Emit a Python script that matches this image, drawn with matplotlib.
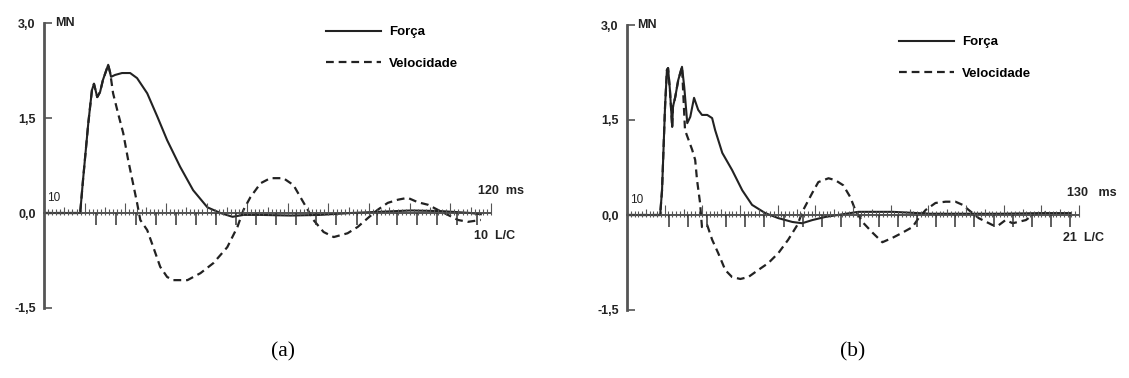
import numpy as np
import matplotlib
matplotlib.use("Agg")
import matplotlib.pyplot as plt

plt.rcParams['font.family'] = ['Liberation Sans', 'DejaVu Sans']

# panel (a) - time in ms, force / velocity in MN
t_force_a = [10, 18.9, 19.6, 20.9, 21.8, 22.3, 23.1, 23.8, 24.5, 25.8, 26.5, 27.5, 29.2, 31.2,
             32.9, 35.4, 37.9, 40.3, 43.5, 46.7, 50.2, 53.4, 56.4, 59.1, 63.3, 70.7, 78.0,
             85.5, 92.9, 100.3, 107.7, 115.0, 117.5]
force_a = [0, 0, 0.52, 1.42, 1.94, 2.04, 1.83, 1.91, 2.10, 2.34, 2.15, 2.18, 2.21, 2.21,
           2.13, 1.89, 1.52, 1.15, 0.73, 0.36, 0.09, 0.0, -0.06, -0.03, -0.03, -0.04, -0.03,
           0.0, 0.02, 0.04, 0.03, 0.0, -0.02]
t_vel_a = [10, 18.9, 19.6, 20.9, 21.8, 22.3, 23.1, 23.8, 24.5, 25.8, 26.3, 27.0, 28.2, 29.5,
           30.7, 31.9, 32.9, 33.7, 35.4, 36.9, 38.6, 40.3, 41.8, 45.3, 48.5, 51.7, 55.1, 57.6,
           59.1, 60.8, 63.3, 65.7, 68.9, 71.4, 73.1, 74.9, 76.3, 78.8, 81.3, 84.7, 87.2, 89.7,
           92.1, 94.6, 97.1, 99.5, 102.0, 104.5, 106.9, 109.4, 111.9, 114.3, 117.5]
vel_a = [0, 0, 0.52, 1.42, 1.94, 2.04, 1.83, 1.91, 2.10, 2.34, 2.21, 1.89, 1.58, 1.26,
         0.84, 0.47, 0.16, -0.11, -0.27, -0.54, -0.85, -1.01, -1.06, -1.06, -0.95, -0.79,
         -0.54, -0.22, 0.05, 0.25, 0.47, 0.55, 0.55, 0.44, 0.25, 0.05, -0.11, -0.30, -0.38,
         -0.32, -0.22, -0.08, 0.05, 0.16, 0.21, 0.24, 0.17, 0.13, 0.05, -0.03, -0.11, -0.14,
         -0.11]

# panel (b)
t_force_b = [10, 18.8, 19.3, 20.1, 20.6, 20.9, 21.4, 22.0, 22.2, 22.8, 23.6, 24.6, 25.2, 26.0,
             26.8, 27.8, 28.9, 29.9, 31.3, 32.6, 33.4, 35.3, 37.9, 40.6, 43.2, 46.7, 50.2,
             53.9, 56.5, 59.2, 62.7, 71.4, 80.5, 90.6, 101.2, 109.2, 119.8, 127.8]
force_b = [0, 0, 0.39, 1.71, 2.29, 2.32, 1.97, 1.39, 1.71, 1.86, 2.13, 2.34, 2.02, 1.45,
           1.55, 1.85, 1.66, 1.58, 1.58, 1.53, 1.34, 0.98, 0.71, 0.39, 0.16, 0.03, -0.05,
           -0.11, -0.13, -0.08, -0.03, 0.05, 0.05, 0.02, 0.02, 0.02, 0.03, 0.03]
t_vel_b = [10, 18.8, 19.3, 20.1, 20.6, 20.9, 21.4, 22.0, 22.2, 22.8, 23.6, 24.6, 25.4, 27.3,
           28.1, 28.6, 29.4, 29.9, 31.3, 32.6, 34.2, 36.1, 37.9, 40.1, 42.2, 44.8, 47.5, 50.2,
           52.8, 55.2, 56.8, 59.2, 60.8, 63.5, 65.3, 67.4, 69.3, 70.6, 72.5, 75.2, 77.8, 80.5,
           83.1, 85.8, 87.4, 89.3, 91.9, 94.6, 97.2, 99.1, 100.7, 103.4, 107.1, 108.7, 110.5,
           112.4, 115.9, 117.7, 121.2]
vel_b = [0, 0, 0.39, 1.71, 2.29, 2.32, 1.97, 1.39, 1.71, 1.86, 2.13, 2.34, 1.34, 1.03,
         0.87, 0.55, 0.19, -0.19, -0.16, -0.39, -0.60, -0.87, -0.98, -1.01, -0.98, -0.87,
         -0.76, -0.60, -0.39, -0.16, 0.08, 0.35, 0.52, 0.58, 0.55, 0.47, 0.28, 0.08, -0.11,
         -0.28, -0.43, -0.36, -0.28, -0.19, -0.05, 0.08, 0.19, 0.21, 0.21, 0.16, 0.08, -0.05,
         -0.16, -0.16, -0.08, -0.13, -0.08, 0.0, 0.05]

y_ticks = [3.0, 1.5, 0.0, -1.5]
y_ticklabels = ['3,0', '1,5', '0,0', '-1,5']
lc_ticks_a = np.linspace(22.8, 116.5, 20)
lc_ticks_b = np.linspace(21.15, 127.6, 22)

INK = '#222222'
bold = dict(fontweight='bold', fontsize=9, color=INK)


def draw_panel(ax, t_f, f, t_v, v, t_end, lc_ticks, end_label, lc_label):
    ax.plot(t_v, v, color=INK, lw=1.6, dashes=(3.5, 2.2), label='Velocidade')
    ax.plot(t_f, f, color=INK, lw=1.5, label='Força')
    ax.set_xlim(10, t_end)
    ax.set_ylim(-1.5, 3.0)
    for s in ['top', 'right', 'bottom']:
        ax.spines[s].set_visible(False)
    ax.spines['left'].set_color('#555555')
    ax.spines['left'].set_linewidth(2)
    ax.set_xticks([])
    ax.set_yticks(y_ticks)
    ax.set_yticklabels(y_ticklabels, **bold)
    ax.tick_params(axis='y', direction='in', length=6, width=1.2, color='#555555', pad=6)

    # time ruler on the zero line
    ax.plot([10, t_end], [0, 0], color='#444444', lw=1.3, clip_on=False)
    ms = np.arange(10, t_end + 1, 1)
    h = np.where(ms % 10 == 0, 0.16, np.where(ms % 5 == 0, 0.09, 0.06))
    ax.vlines(ms, -0.03, h, color='#555555', lw=0.8, clip_on=False)
    ax.vlines(lc_ticks, -0.19, 0, color='#333333', lw=1.1, clip_on=False)

    ax.text(10.8, 0.23, '10', fontsize=8.5, color=INK, va='center')
    ax.text(12.8, 3.0, 'MN', va='center', **bold)
    ax.text(t_end - 3.2, 0.34, end_label, va='center', **bold)
    ax.text(t_end - 4.3, -0.37, lc_label, va='center', **bold)

    handles, labels = ax.get_legend_handles_labels()
    return handles[::-1], labels[::-1]


fig = plt.figure(figsize=(11.29, 3.78), dpi=100)
ax1 = fig.add_axes([44 / 1129, 70 / 378, 447 / 1129, 285 / 378])
ax2 = fig.add_axes([627 / 1129, 68 / 378, 452 / 1129, 285 / 378])

leg_kw = dict(loc='upper left', bbox_transform=fig.transFigure, frameon=False, borderpad=0,
              borderaxespad=0, handlelength=4.2, handletextpad=0.6, labelspacing=1.45,
              prop=dict(weight='bold', size=9.5))

h, l = draw_panel(ax1, t_force_a, force_a, t_vel_a, vel_a, 120, lc_ticks_a,
                  '120  ms', '10  L/C')
ax1.legend(h, l, bbox_to_anchor=(326 / 1129, 1 - 26 / 378), **leg_kw)

h, l = draw_panel(ax2, t_force_b, force_b, t_vel_b, vel_b, 130, lc_ticks_b,
                  '130   ms', '21  L/C')
ax2.legend(h, l, bbox_to_anchor=(899 / 1129, 1 - 36 / 378), **leg_kw)

fig.text(283 / 1129, 1 - 352 / 378, '(a)', family='Liberation Serif', fontsize=15.5,
         ha='center', va='center')
fig.text(853 / 1129, 1 - 352 / 378, '(b)', family='Liberation Serif', fontsize=15.5,
         ha='center', va='center')

fig.savefig('out.png', dpi=100)
